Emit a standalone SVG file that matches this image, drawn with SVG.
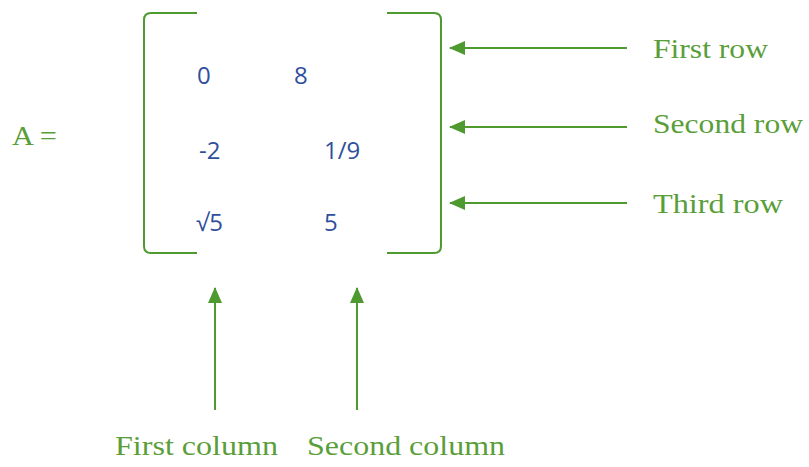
<svg xmlns="http://www.w3.org/2000/svg" width="809" height="467" viewBox="0 0 809 467">
<defs>
<marker id="ah" viewBox="0 0 16 14" refX="15" refY="7" markerWidth="16" markerHeight="14" markerUnits="userSpaceOnUse" orient="auto">
<path d="M16,7 L0,0 L0,14 Z" fill="#4e9a30"/>
</marker>
<style>
.g{stroke:#4e9a30;stroke-width:2;fill:none}
.lbl{font-family:"Liberation Serif","Times New Roman",serif;font-size:28px;fill:#5a9e3a}
.num{font-family:"Open Sans","Liberation Sans",sans-serif;font-size:24px;fill:#2f4f9c}
</style>
</defs>
<rect width="809" height="467" fill="#ffffff"/>
<g id="matrix">
<path class="g" d="M197,13 L151,13 Q144,13 144,20 L144,246 Q144,253 151,253 L197,253"/>
<path class="g" d="M387,13 L434,13 Q441,13 441,20 L441,246 Q441,253 434,253 L387,253"/>
<text class="num" x="197" y="84">0</text>
<text class="num" x="294" y="84">8</text>
<text class="num" x="199" y="159">-2</text>
<text class="num" x="324" y="159">1/9</text>
<text class="num" x="196" y="231">√5</text>
<text class="num" x="324" y="231">5</text>
</g>
<g id="label-A"><text class="lbl" x="12" y="145" font-size="23" textLength="45" lengthAdjust="spacingAndGlyphs">A =</text></g>
<g id="connectors">
<line class="g" x1="627" y1="48" x2="450" y2="48" marker-end="url(#ah)"/>
<line class="g" x1="627" y1="127" x2="450" y2="127" marker-end="url(#ah)"/>
<line class="g" x1="627" y1="203" x2="450" y2="203" marker-end="url(#ah)"/>
<line class="g" x1="215" y1="410" x2="215" y2="288" marker-end="url(#ah)"/>
<line class="g" x1="357" y1="410" x2="357" y2="288" marker-end="url(#ah)"/>
</g>
<g id="first-row"><text class="lbl" x="653" y="58" textLength="115" lengthAdjust="spacingAndGlyphs">First row</text></g>
<g id="second-row"><text class="lbl" x="653" y="133" textLength="150" lengthAdjust="spacingAndGlyphs">Second row</text></g>
<g id="third-row"><text class="lbl" x="653" y="213" textLength="130" lengthAdjust="spacingAndGlyphs">Third row</text></g>
<g id="first-column"><text class="lbl" x="115" y="455" textLength="163" lengthAdjust="spacingAndGlyphs">First column</text></g>
<g id="second-column"><text class="lbl" x="307" y="455" textLength="198" lengthAdjust="spacingAndGlyphs">Second column</text></g>
</svg>
